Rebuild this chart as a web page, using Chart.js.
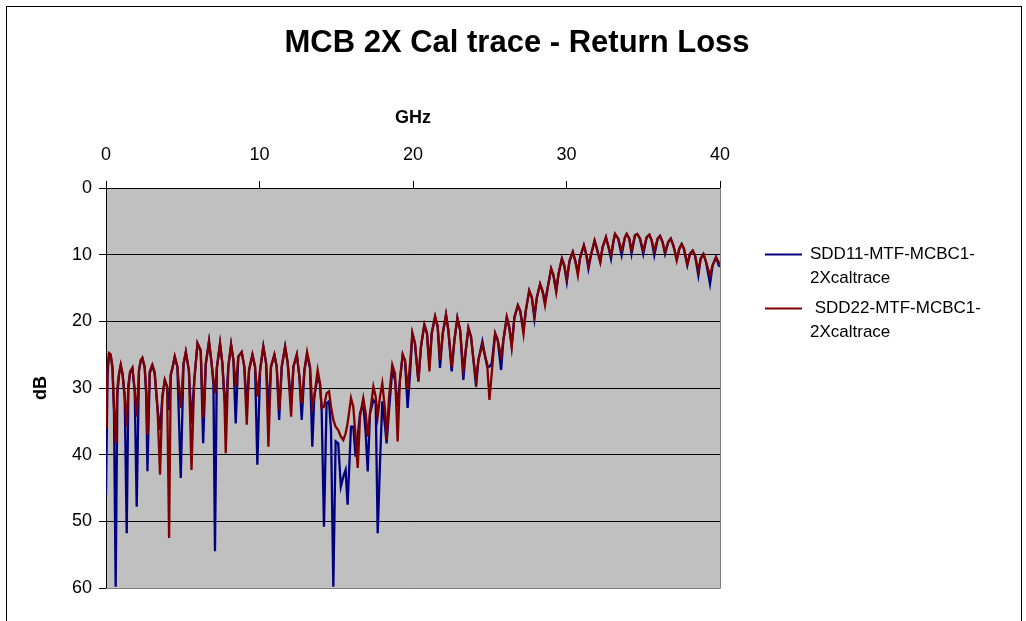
<!DOCTYPE html>
<html>
<head>
<meta charset="utf-8">
<script src="https://cdn.jsdelivr.net/npm/chart.js@4.4.0/dist/chart.umd.min.js"></script>
<style>
html, body { margin: 0; padding: 0; background: #fff; }
</style>
</head>
<body>
<canvas id="chart" width="1026" height="621"></canvas>
<script>
const chartTitle = 'MCB 2X Cal trace - Return Loss'
const seriesNames = [['SDD11-MTF-MCBC1-', '2Xcaltrace'], [' SDD22-MTF-MCBC1-', '2Xcaltrace']]
const xTicks = [0, 10, 20, 30, 40]
const yTicks = [0, 10, 20, 30, 40, 50, 60]

// frequency points (GHz)
const freqGHz = [
    0.00, 0.10, 0.20, 0.30, 0.42, 0.52, 0.63, 0.74, 0.85, 0.96, 1.08, 1.22, 1.35, 1.46, 1.57, 1.72, 1.87, 2.00, 2.15, 2.26, 2.37, 2.52, 2.62, 2.70, 2.85, 3.02, 3.17, 3.35, 3.52, 3.67, 3.83, 3.98, 4.11, 4.22, 4.33, 4.48, 4.65, 4.87, 5.05, 5.20, 5.40, 5.57, 5.75, 5.96, 6.17, 6.33, 6.50,
    6.71, 6.88, 7.00, 7.10, 7.22, 7.43, 7.58, 7.71, 7.80, 7.97, 8.15, 8.30, 8.45, 8.62, 8.84, 9.01, 9.17, 9.32, 9.54, 9.71, 9.86, 10.04, 10.25, 10.43, 10.58, 10.75, 10.97, 11.12, 11.28, 11.45, 11.67, 11.84, 12.06, 12.21, 12.43, 12.60, 12.75, 12.93,
    13.10, 13.29, 13.44, 13.57, 13.79, 13.94, 14.05, 14.20, 14.37, 14.53, 14.66, 14.81, 14.96, 15.13, 15.30, 15.46, 15.61, 15.74, 15.96, 16.11, 16.26, 16.40, 16.55, 16.76, 16.92, 17.05, 17.20, 17.42, 17.57, 17.70, 17.85, 18.00, 18.18, 18.28, 18.44, 18.65, 18.83, 19.00, 19.15, 19.33,
    19.48, 19.65, 19.81, 19.96, 20.13, 20.35, 20.52, 20.74, 20.91, 21.07, 21.22, 21.44, 21.61, 21.76, 21.94, 22.15, 22.30, 22.52, 22.70, 22.89, 23.07, 23.28, 23.44, 23.61, 23.78, 23.94, 24.11, 24.26, 24.52, 24.70, 24.83, 24.98, 25.13, 25.35, 25.52, 25.74, 25.89,
    26.11, 26.28, 26.43, 26.61, 26.83, 26.98, 27.20, 27.35, 27.57, 27.74, 27.91, 28.07, 28.28, 28.43, 28.60, 28.78, 29.00, 29.15, 29.33, 29.48, 29.70, 29.85, 30.02, 30.20, 30.41, 30.57, 30.74, 30.89, 31.13, 31.28, 31.43, 31.61, 31.83, 31.98, 32.20, 32.35, 32.57, 32.74, 32.90,
    33.05, 33.16, 33.37, 33.59, 33.81, 33.92, 34.09, 34.24, 34.46, 34.61, 34.79, 35.00, 35.22, 35.40, 35.55, 35.72, 35.94, 36.09, 36.26, 36.42, 36.63, 36.79, 36.96, 37.18, 37.35, 37.50, 37.65, 37.87, 38.04, 38.22, 38.37, 38.59, 38.74, 38.92, 39.09, 39.35, 39.52, 39.74, 39.92, 40.00
]

// SDD11 (dB)
const sdd11 = [
    46.0, 28.0, 24.8, 25.0, 27.0, 33.5, 59.8, 31.0, 28.0, 26.6, 28.0, 31.5, 51.8, 30.0, 27.7, 27.0, 30.5, 47.8, 27.4, 26.0, 25.5, 27.0, 31.0, 42.5, 27.8, 26.6, 27.8, 33.0, 36.3, 31.4, 28.8, 29.8, 33.3, 28.0, 27.0, 25.3, 26.8, 43.5, 26.5, 24.6, 27.4, 35.3, 28.9, 23.3, 24.5, 38.3, 26.5,
    23.0, 26.3, 29.5, 54.5, 27.0, 23.3, 26.3, 31.3, 33.3, 26.8, 23.5, 25.8, 35.3, 25.3, 24.6, 26.8, 32.8, 27.3, 25.0, 26.8, 41.5, 27.3, 23.8, 26.3, 33.3, 26.8, 25.0, 26.8, 34.8, 26.8, 23.8, 26.3, 32.3, 26.8, 25.0, 28.3, 34.8, 27.3,
    25.0, 27.0, 38.8, 31.3, 28.3, 29.3, 33.3, 50.8, 32.3, 32.0, 36.3, 59.8, 38.0, 38.3, 44.8, 43.3, 42.3, 47.5, 35.8, 35.8, 40.3, 37.3, 33.8, 32.3, 36.8, 42.5, 33.8, 31.8, 32.3, 51.8, 41.3, 32.0, 35.8, 38.3, 33.3, 27.3, 28.8, 32.8, 28.8, 25.0,
    26.0, 33.0, 27.8, 21.8, 23.3, 29.0, 23.8, 20.5, 21.8, 26.6, 21.8, 19.3, 20.8, 27.0, 21.8, 19.0, 21.3, 27.5, 22.8, 19.5, 21.3, 28.8, 24.3, 21.0, 22.3, 25.8, 29.8, 25.8, 23.0, 25.3, 26.8, 26.8, 26.3, 21.8, 22.8, 27.3, 22.8,
    19.4, 21.0, 23.6, 19.4, 17.6, 18.4, 21.2, 18.4, 15.4, 16.4, 19.6, 16.4, 14.4, 15.4, 17.1, 14.9, 12.1, 13.1, 15.4, 12.9, 10.6, 11.6, 14.1, 10.9, 9.6, 10.9, 12.6, 10.4, 8.6, 9.9, 12.1, 9.9, 7.9, 9.1, 11.1, 8.9, 7.4, 8.9, 10.6,
    8.2, 6.9, 7.6, 10.1, 7.4, 6.9, 7.6, 9.9, 7.1, 6.9, 7.6, 9.9, 7.4, 7.0, 7.9, 10.1, 7.6, 7.2, 8.1, 9.9, 8.1, 7.6, 8.6, 10.6, 9.1, 8.4, 9.1, 11.6, 9.9, 9.4, 10.1, 13.1, 10.6, 9.9, 11.1, 14.4, 11.6, 10.4, 11.6, 11.8
]

// SDD22 (dB)
const sdd22 = [
    36.0, 27.0, 24.8, 25.0, 26.8, 32.8, 38.3, 30.0, 27.8, 26.5, 27.8, 31.3, 35.8, 29.5, 27.5, 27.0, 30.3, 34.3, 27.3, 25.8, 25.5, 26.8, 30.5, 37.0, 27.5, 26.5, 27.6, 32.8, 43.0, 31.3, 28.8, 29.8, 52.5, 28.0, 27.0, 25.3, 26.8, 33.0, 26.3, 24.6, 27.3, 42.3, 28.8, 23.3, 24.3, 34.5, 26.3,
    23.0, 26.3, 28.8, 30.8, 27.0, 23.3, 26.3, 31.3, 39.8, 26.8, 23.5, 25.8, 29.8, 25.3, 24.6, 26.8, 35.5, 27.3, 25.0, 26.8, 31.3, 27.3, 23.8, 26.3, 38.8, 26.8, 25.0, 26.8, 33.3, 26.8, 23.8, 26.3, 34.3, 26.8, 25.0, 28.3, 32.3, 27.3,
    24.6, 26.8, 32.8, 31.3, 27.3, 29.3, 33.0, 32.8, 30.8, 30.5, 32.8, 34.8, 35.8, 36.3, 37.3, 37.8, 36.8, 35.3, 31.5, 32.8, 37.3, 42.0, 34.3, 31.5, 33.8, 37.3, 33.8, 29.8, 31.3, 34.3, 31.3, 29.3, 33.3, 37.8, 31.3, 26.5, 27.8, 38.0, 28.8, 25.0,
    25.8, 30.3, 26.3, 21.8, 23.3, 29.0, 23.8, 20.5, 21.8, 27.5, 21.8, 19.3, 20.8, 25.8, 21.8, 19.0, 21.3, 26.8, 22.8, 19.5, 21.3, 27.3, 24.3, 21.0, 22.3, 25.8, 28.8, 25.8, 23.5, 25.3, 26.3, 31.8, 27.8, 21.8, 22.8, 25.3, 22.8,
    19.4, 21.0, 23.9, 19.4, 17.6, 18.4, 21.9, 18.4, 15.4, 16.4, 19.1, 16.4, 14.4, 15.4, 17.6, 14.9, 12.1, 13.1, 15.6, 12.9, 10.6, 11.6, 13.6, 10.9, 9.6, 10.9, 13.1, 10.4, 8.6, 9.9, 11.6, 9.9, 7.9, 9.1, 11.1, 8.9, 7.4, 8.9, 10.1,
    8.0, 6.9, 7.6, 9.4, 7.4, 6.9, 7.6, 9.4, 7.1, 6.9, 7.6, 9.4, 7.4, 7.0, 7.9, 9.4, 7.6, 7.2, 8.1, 9.6, 8.1, 7.6, 8.6, 10.9, 9.1, 8.4, 9.1, 11.4, 9.9, 9.4, 10.1, 12.4, 10.6, 9.9, 11.1, 13.1, 11.6, 10.4, 11.1, 11.4
]

const blue = '#000080'
const red = '#800000'
const fontFamily = "'Liberation Sans', Arial, sans-serif"

Chart.defaults.font.family = fontFamily
Chart.defaults.color = '#000'

function toPoints(values) {
    return freqGHz.map((f, i) => ({x: f, y: values[i]}))
}

// background, plot area fill, outer frame, title and legend
const excelLook = {
    id: 'excelLook',
    beforeDraw(chart) {
        const {ctx, chartArea: a} = chart
        ctx.save()
        ctx.fillStyle = '#fff'
        ctx.fillRect(0, 0, chart.width, chart.height)
        ctx.fillStyle = '#c0c0c0'
        ctx.fillRect(a.left, a.top, a.right - a.left, a.bottom - a.top)
        ctx.restore()
    },
    afterDraw(chart) {
        const {ctx, chartArea: a} = chart
        ctx.save()
        // plot area border right / bottom
        ctx.strokeStyle = '#808080'
        ctx.lineWidth = 1
        ctx.beginPath()
        ctx.moveTo(Math.round(a.right) + 0.5, a.top)
        ctx.lineTo(Math.round(a.right) + 0.5, Math.round(a.bottom) + 0.5)
        ctx.lineTo(a.left, Math.round(a.bottom) + 0.5)
        ctx.stroke()
        // outer frame
        ctx.strokeStyle = '#000'
        ctx.strokeRect(6.5, 6.5, 1015, 700)

        ctx.fillStyle = '#000'
        ctx.font = 'bold 31px ' + fontFamily
        ctx.textAlign = 'center'
        ctx.textBaseline = 'middle'
        ctx.fillText(chartTitle, 517, 43)

        // legend
        const colors = [blue, red]
        const lineY = [254.5, 308.5]
        const textY = [[259, 283], [313, 337]]
        ctx.font = '17px ' + fontFamily
        ctx.textAlign = 'left'
        ctx.textBaseline = 'alphabetic'
        colors.forEach((c, i) => {
            ctx.strokeStyle = c
            ctx.lineWidth = 2
            ctx.beginPath()
            ctx.moveTo(765, lineY[i])
            ctx.lineTo(802, lineY[i])
            ctx.stroke()
            seriesNames[i].forEach((line, j) => {
                ctx.fillText(line, 810, textY[i][j])
            })
        })
        ctx.restore()
    }
}

const ctx = document.getElementById('chart')
const myChart = new Chart(ctx, {
    type: 'line',
    data: {
        datasets: [
            {
                label: seriesNames[0].join(''),
                data: toPoints(sdd11),
                borderColor: blue,
                borderWidth: 2.3,
                pointRadius: 0,
                tension: 0,
                fill: false,
                order: 1
            },
            {
                label: seriesNames[1].join(''),
                data: toPoints(sdd22),
                borderColor: red,
                borderWidth: 2.3,
                pointRadius: 0,
                tension: 0,
                fill: false,
                order: 0
            }
        ]
    },
    options: {
        responsive: false,
        animation: false,
        layout: {padding: {left: 20, top: 100, right: 306, bottom: 33}},
        plugins: {
            legend: {display: false},
            title: {display: false},
            tooltip: {enabled: false}
        },
        scales: {
            x: {
                type: 'linear',
                position: 'top',
                min: 0,
                max: 40,
                afterBuildTicks: s => { s.ticks = xTicks.map(v => ({value: v})) },
                afterFit: s => { s.height = 88 },
                ticks: {font: {size: 18}, padding: 15, maxRotation: 0, color: '#000'},
                grid: {drawOnChartArea: false, color: '#000', tickLength: 7},
                border: {color: '#000'},
                title: {display: true, text: 'GHz', font: {size: 18, weight: 'bold'}, padding: {top: 7, bottom: 0}, color: '#000'}
            },
            y: {
                type: 'linear',
                reverse: true,
                min: 0,
                max: 60,
                afterBuildTicks: s => { s.ticks = yTicks.map(v => ({value: v})) },
                afterFit: s => { s.width = 86 },
                ticks: {font: {size: 18}, padding: 7, color: '#000'},
                grid: {color: '#000', tickLength: 7},
                border: {color: '#000'},
                title: {display: true, text: 'dB', font: {size: 18, weight: 'bold'}, padding: {top: 10, bottom: 0}, color: '#000'}
            }
        }
    },
    plugins: [excelLook]
})
</script>
</body>
</html>
